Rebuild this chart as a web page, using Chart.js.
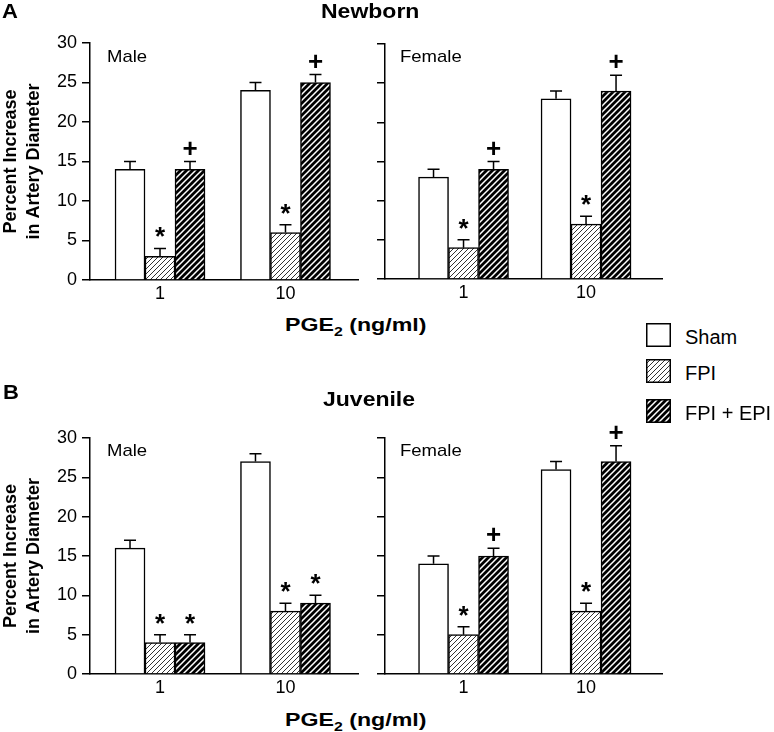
<!DOCTYPE html>
<html>
<head>
<meta charset="utf-8">
<script src="https://cdn.jsdelivr.net/npm/chart.js@4.4.1/dist/chart.umd.min.js"></script>
<style>
  body { margin: 0; background: #fff; }
  #fig { position: relative; width: 774px; height: 732px; font-family: 'Liberation Sans', Arial, sans-serif; color: #000; }
  #fig canvas { position: absolute; }
  .lbl { position: absolute; white-space: nowrap; line-height: 1; transform-origin: 0 50%; }
  .b { font-weight: bold; }
</style>
</head>
<body>
<div id="fig">
  <canvas id="nbMale" width="372" height="305" style="left:0;top:0"></canvas>
  <canvas id="nbFemale" width="300" height="305" style="left:372px;top:0"></canvas>
  <canvas id="juvMale" width="372" height="305" style="left:0;top:395px"></canvas>
  <canvas id="juvFemale" width="300" height="305" style="left:372px;top:395px"></canvas>

  <div class="lbl b" style="left:2px;top:1px;font-size:20px;transform:scaleX(1.1)">A</div>
  <div class="lbl b" style="left:321px;top:1px;font-size:20px;transform:scaleX(1.15)">Newborn</div>
  <div class="lbl b" style="left:3px;top:382px;font-size:20px;transform:scaleX(1.1)">B</div>
  <div class="lbl b" style="left:323px;top:389px;font-size:20px;transform:scaleX(1.15)">Juvenile</div>

  <div class="lbl" style="left:107px;top:48px;font-size:17px;transform:scaleX(1.09)">Male</div>
  <div class="lbl" style="left:400px;top:48px;font-size:17px;transform:scaleX(1.09)">Female</div>
  <div class="lbl" style="left:107px;top:442px;font-size:17px;transform:scaleX(1.09)">Male</div>
  <div class="lbl" style="left:400px;top:442px;font-size:17px;transform:scaleX(1.09)">Female</div>

  <div class="lbl b" style="left:285px;top:315px;font-size:19px;transform:scaleX(1.22)">PGE<sub style="font-size:13px">2</sub> (ng/ml)</div>
  <div class="lbl b" style="left:285px;top:710px;font-size:19px;transform:scaleX(1.22)">PGE<sub style="font-size:13px">2</sub> (ng/ml)</div>

  <div id="legend"></div>
</div>
<script>
// x categories (PGE2 dose, ng/ml) and the three groups
const doses = ['1', '10'];
const groups = ['Sham', 'FPI', 'FPI + EPI'];
const yTicks = [0, 5, 10, 15, 20, 25, 30];

// rows: Sham, FPI, FPI + EPI ; columns: dose 1, dose 10
const newbornMale = [[14, 24], [3, 6], [14, 25]];
const newbornMaleSem = [[1, 1], [1, 1], [1, 1]];
const newbornMaleSig = [['', ''], ['*', '*'], ['+', '+']];

const newbornFemale = [[13, 23], [4, 7], [14, 24]];
const newbornFemaleSem = [[1, 1], [1, 1], [1, 2]];
const newbornFemaleSig = [['', ''], ['*', '*'], ['+', '+']];

const juvenileMale = [[16, 27], [4, 8], [4, 9]];
const juvenileMaleSem = [[1, 1], [1, 1], [1, 1]];
const juvenileMaleSig = [['', ''], ['*', '*'], ['*', '*']];

const juvenileFemale = [[14, 26], [5, 8], [15, 27]];
const juvenileFemaleSem = [[1, 1], [1, 1], [1, 2]];
const juvenileFemaleSig = [['', ''], ['*', '*'], ['+', '+']];

const family = "'Liberation Sans', Arial, sans-serif";

function hatch(bg, fg, size, width) {
    const c = document.createElement('canvas');
    c.width = c.height = size;
    const g = c.getContext('2d');
    g.fillStyle = bg;
    g.fillRect(0, 0, size, size);
    g.strokeStyle = fg;
    g.lineWidth = width;
    g.beginPath();
    g.moveTo(0, size); g.lineTo(size, 0);
    g.moveTo(-2, 2); g.lineTo(2, -2);
    g.moveTo(size - 2, size + 2); g.lineTo(size + 2, size - 2);
    g.stroke();
    return g.createPattern(c, 'repeat');
}

const fills = [
    '#ffffff',
    hatch('#ffffff', '#333333', 5, 1),
    hatch('#000000', '#ffffff', 6, 1.5)
];

// error bars (upper only) and significance marks, placed from the bars themselves
const errorBars = {
    id: 'errorBars',
    afterDatasetsDraw(chart) {
        const ctx = chart.ctx;
        const y = chart.scales.y;
        ctx.save();
        ctx.strokeStyle = '#000';
        ctx.fillStyle = '#000';
        ctx.lineWidth = 1.5;
        chart.data.datasets.forEach((ds, di) => {
            chart.getDatasetMeta(di).data.forEach((bar, i) => {
                const top = y.getPixelForValue(ds.data[i].y + ds.sem[i]);
                ctx.beginPath();
                ctx.moveTo(bar.x, bar.y);
                ctx.lineTo(bar.x, top);
                ctx.moveTo(bar.x - 6, top);
                ctx.lineTo(bar.x + 6, top);
                ctx.stroke();
                const mark = ds.sig[i];
                if (mark) {
                    ctx.font = 'bold 26px ' + family;
                    ctx.textAlign = 'center';
                    ctx.textBaseline = 'alphabetic';
                    ctx.fillText(mark, bar.x, top - (mark == '*' ? 3 : 5));
                }
            });
        });
        ctx.restore();
    }
};

function makePanel(id, means, sem, sig, p) {
    const tickFont = { family: family, size: 18 };
    return new Chart(document.getElementById(id), {
        type: 'bar',
        data: {
            datasets: groups.map((g, k) => ({
                label: g,
                data: means[k].map((v, i) => ({ x: i + 1, y: v })),
                sem: sem[k],
                sig: sig[k],
                backgroundColor: fills[k],
                borderColor: '#000',
                borderWidth: 1.5,
                borderSkipped: 'bottom',
                barThickness: 30
            }))
        },
        options: {
            responsive: false,
            animation: false,
            layout: { padding: { top: p.top, right: p.right, left: 0, bottom: 0 } },
            plugins: { legend: { display: false }, tooltip: { enabled: false } },
            scales: {
                x: {
                    type: 'linear',
                    min: p.xMin,
                    max: p.xMax,
                    offset: false,
                    grid: { display: false, drawTicks: false },
                    border: { display: true, color: '#000', width: 1.5 },
                    afterBuildTicks: s => { s.ticks = doses.map((d, i) => ({ value: i + 1 })); },
                    afterFit: s => { s.height = p.xHeight; },
                    ticks: {
                        callback: v => doses[v - 1],
                        font: tickFont, color: '#000', padding: 3,
                        maxRotation: 0, autoSkip: false
                    }
                },
                y: {
                    min: 0,
                    max: 30,
                    afterBuildTicks: s => { s.ticks = yTicks.map(v => ({ value: v })); },
                    afterFit: s => { s.width = p.yWidth; },
                    grid: { drawOnChartArea: false, drawTicks: true, tickLength: 8, color: '#000', lineWidth: 1.5 },
                    border: { display: true, color: '#000', width: 1.5 },
                    ticks: { display: p.showY, font: tickFont, color: '#000', padding: 5 },
                    title: {
                        display: p.showY,
                        text: ['Percent Increase', 'in Artery Diameter'],
                        font: { family: family, size: 18, weight: 'bold', lineHeight: 1.25 },
                        color: '#000',
                        padding: { top: 0, bottom: 0 }
                    }
                }
            }
        },
        plugins: [errorBars]
    });
}

const maleLayout = { showY: true, yWidth: 90, right: 14, xMin: 0.442, xMax: 2.578 };
const femaleLayout = { showY: false, yWidth: 13, right: 10, xMin: 0.359, xMax: 2.62 };

makePanel('nbMale', newbornMale, newbornMaleSem, newbornMaleSig,
    Object.assign({ top: 43, xHeight: 25 }, maleLayout));
makePanel('nbFemale', newbornFemale, newbornFemaleSem, newbornFemaleSig,
    Object.assign({ top: 44, xHeight: 26 }, femaleLayout));
makePanel('juvMale', juvenileMale, juvenileMaleSem, juvenileMaleSig,
    Object.assign({ top: 43, xHeight: 26 }, maleLayout));
makePanel('juvFemale', juvenileFemale, juvenileFemaleSem, juvenileFemaleSig,
    Object.assign({ top: 43, xHeight: 26 }, femaleLayout));

// legend: swatches filled with the same patterns as the bars
const legendTops = [323, 359, 399];
const legend = document.getElementById('legend');
groups.forEach((g, k) => {
    const sw = document.createElement('canvas');
    sw.width = 25; sw.height = 24;
    sw.style.left = '646px';
    sw.style.top = legendTops[k] + 'px';
    const g2 = sw.getContext('2d');
    g2.fillStyle = fills[k];
    g2.fillRect(0, 0, 25, 24);
    g2.strokeStyle = '#000';
    g2.lineWidth = 1.5;
    g2.strokeRect(0.75, 0.75, 23.5, 22.5);
    legend.appendChild(sw);

    const t = document.createElement('div');
    t.className = 'lbl';
    t.style.left = '685px';
    t.style.top = (legendTops[k] + 4) + 'px';
    t.style.fontSize = '20px';
    t.textContent = g;
    legend.appendChild(t);
});
</script>
</body>
</html>
